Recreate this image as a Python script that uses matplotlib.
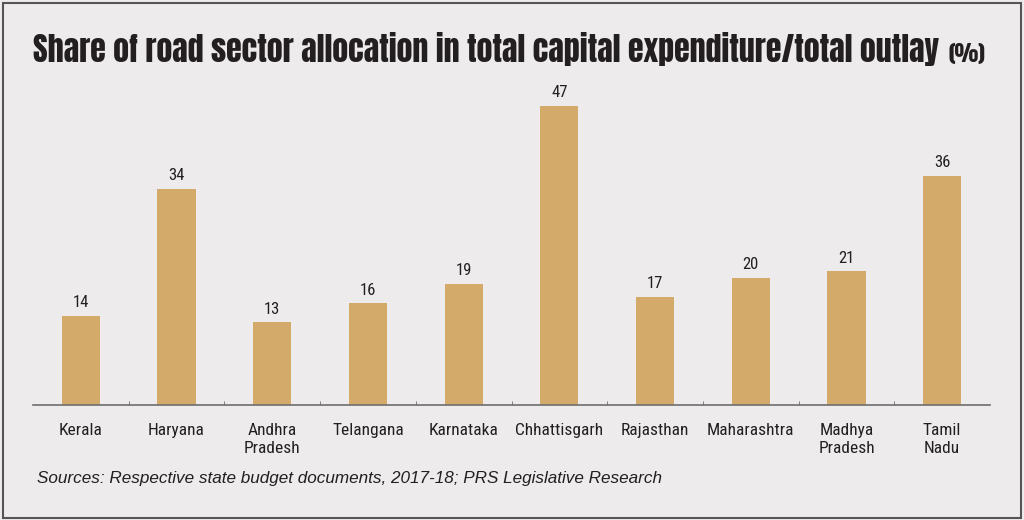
import matplotlib
matplotlib.use('Agg')
import matplotlib.pyplot as plt
import numpy as np
from matplotlib import font_manager as fm
from matplotlib.patches import Rectangle

states = ['Kerala', 'Haryana', 'Andhra\nPradesh', 'Telangana', 'Karnataka',
          'Chhattisgarh', 'Rajasthan', 'Maharashtra', 'Madhya\nPradesh', 'Tamil\nNadu']
share = [14, 34, 13, 16, 19, 47, 17, 20, 21, 36]

title = 'Share of road sector allocation in total capital expenditure/total outlay'
unit = '(%)'
source = 'Sources: Respective state budget documents, 2017-18; PRS Legislative Research'

BG = '#EDEBEC'
BAR = '#D4AA6A'
INK = '#231F20'

installed = set(f.name for f in fm.fontManager.ttflist)


def pick(cands):
    for c in cands:
        if c in installed:
            return c
    return 'DejaVu Sans'


title_font = pick(['Anton', 'Oswald', 'Fjalla One', 'Archivo Narrow', 'Roboto Condensed',
                   'IBM Plex Sans Condensed'])
body_font = pick(['Roboto Condensed', 'Archivo Narrow', 'IBM Plex Sans Condensed',
                  'Liberation Sans'])
ital_font = pick(['Liberation Sans', 'Roboto'])

fig = plt.figure(figsize=(10.24, 5.2), dpi=100, facecolor=BG)
fig.patches.append(Rectangle((0.003, 0.004), 0.994, 0.99, transform=fig.transFigure,
                             fill=False, edgecolor='#555555', linewidth=1.5))

ax = fig.add_axes([33 / 1024, 1 - 405 / 520, 957 / 1024, 318 / 520])
ax.set_facecolor(BG)
x = np.arange(len(states))
ax.bar(x, share, width=0.4, color=BAR)
for xi, v in zip(x, share):
    ax.text(xi, v + 0.9, str(v), ha='center', va='bottom', fontsize=12,
            color=INK, family=body_font)

ax.set_xlim(-0.5, len(states) - 0.5)
ax.set_ylim(0, 50)
for s in ['top', 'right', 'left']:
    ax.spines[s].set_visible(False)
ax.spines['bottom'].set_color('#6E6E6E')
ax.spines['bottom'].set_linewidth(1.2)
ax.set_yticks([])
ax.set_xticks(x)
ax.set_xticklabels(states, fontsize=12.5, color=INK, linespacing=1.22, family=body_font)
ax.tick_params(axis='x', length=0, pad=13)
ax.set_xticks(np.arange(0.5, len(states) - 1, 1), minor=True)
ax.tick_params(axis='x', which='minor', length=3, direction='in', color='#6E6E6E')

# title, sized to span the same width as the reference
t = fig.text(33 / 1024, 1 - 62 / 520, title, fontsize=24, family=title_font,
             fontweight='bold', color=INK, va='baseline')
fig.canvas.draw()
w = t.get_window_extent().width
t.set_fontsize(24 * 910 / w)
fig.canvas.draw()
bb = t.get_window_extent()
fig.text((bb.x1 + 9) / 1024, 1 - 62 / 520, unit, fontsize=t.get_fontsize() * 0.7,
         family=title_font, fontweight='bold', color=INK, va='baseline')

s = fig.text(37 / 1024, 1 - 478 / 520, source, fontsize=13, style='italic',
             family=ital_font, color=INK, va='center')
fig.canvas.draw()
w = s.get_window_extent().width
s.set_fontsize(13 * 623 / w)

fig.savefig('out.png', dpi=100, facecolor=BG)
